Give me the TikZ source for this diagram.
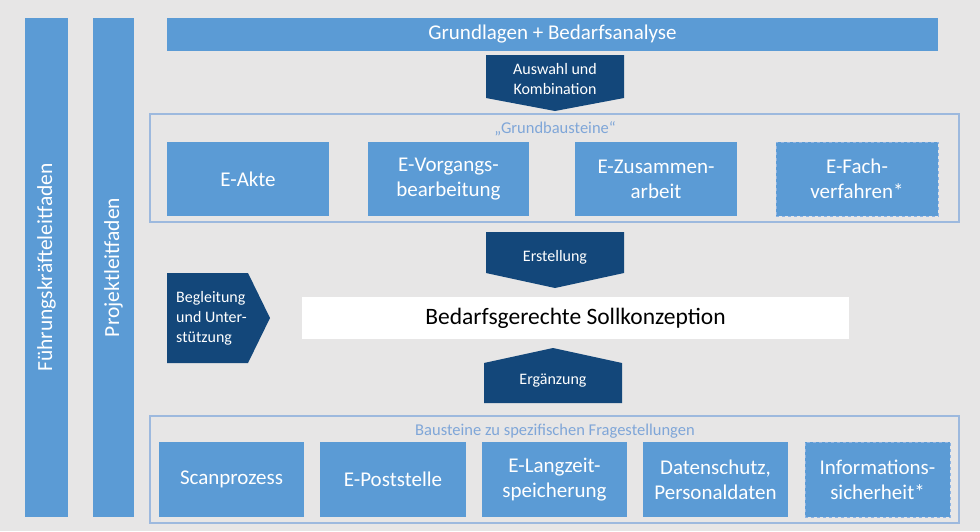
\documentclass[tikz,border=0pt]{standalone}
\usepackage{fontspec}
\setmainfont{Carlito}
\definecolor{bg}{HTML}{E7E6E6}
\definecolor{boxblue}{HTML}{5B9BD5}
\definecolor{darkblue}{HTML}{13477A}
\definecolor{grpline}{HTML}{9DB9DE}
\definecolor{grplabel}{HTML}{7FA6D8}
\definecolor{dashline}{HTML}{8FB4E3}
\tikzset{
  box/.style={fill=boxblue, text=white, align=center, inner sep=0pt, font=\fontsize{21}{25}\selectfont},
  bar/.style={fill=boxblue, text=white, inner sep=0pt, font=\fontsize{21}{25}\selectfont},
  vtext/.style={text=white, rotate=90, inner sep=0pt, font=\fontsize{21.5}{25}\selectfont},
  grp/.style={draw=grpline, line width=1.5pt},
  grplbl/.style={text=grplabel, font=\fontsize{16.5}{18}\selectfont, inner sep=0pt},
  darrow/.style={fill=darkblue},
  dlbl/.style={text=white, align=center, font=\fontsize{16}{20}\selectfont, inner sep=0pt},
  dashbox/.style={draw=dashline, dashed, line width=0.8pt},
}
\begin{document}
\begin{tikzpicture}[x=1pt,y=-1pt]
\fill[bg] (0,0) rectangle (980,531);
\useasboundingbox (0,0) rectangle (980,531);

% vertical bars
\node[bar, minimum width=43, minimum height=499] (fk) at (46.5,267.5) {};
\node[vtext] (fkt) at (fk.center) {Führungskräfteleitfaden};
\node[bar, minimum width=41, minimum height=499] (pl) at (113.5,267.5) {};
\node[vtext] (plt) at (pl.center) {Projektleitfaden};

% top bar
\node[bar, minimum width=771, minimum height=33] (top) at (552.5,34.5) {Grundlagen + Bedarfsanalyse};

% arrow Auswahl
\fill[darrow] (486,55) -- (624,55) -- (624,98) -- (555,111) -- (486,98) -- cycle;
\node[dlbl] (aus) at (555,79) {Auswahl und\\Kombination};

% group 1
\draw[grp] (150,114) rectangle (959,222);
\node[grplbl] (g1) at (555,129) {„Grundbausteine“};
\node[box, minimum width=162, minimum height=74] (akte) at (248,179) {E-Akte};
\node[box, minimum width=161, minimum height=74] (vorg) at (448.5,179) {E-Vorgangs-\\bearbeitung};
\node[box, minimum width=162, minimum height=74] (zus) at (656,179) {E-Zusammen-\\arbeit};
\node[box, dashbox, minimum width=162, minimum height=74] (fach) at (857,179) {E-Fach-\\verfahren*};

% arrow Erstellung
\fill[darrow] (486,232) -- (624,232) -- (624,273) -- (555,288) -- (486,273) -- cycle;
\node[dlbl] (erst) at (555,257) {Erstellung};

% Begleitung chevron
\fill[darrow] (167,273) -- (248,273) -- (270,318) -- (248,363) -- (167,363) -- cycle;
\node[dlbl, align=left, anchor=west] (begl) at (176,318) {Begleitung\\und Unter-\\stützung};

% white box
\node[fill=white, minimum width=547, minimum height=42, inner sep=0pt, font=\fontsize{23.5}{27}\selectfont] (soll) at (575.5,318) {Bedarfsgerechte Sollkonzeption};

% arrow Ergänzung
\fill[darrow] (484,403) -- (622,403) -- (622,363) -- (553,348) -- (484,363) -- cycle;
\node[dlbl] (erg) at (553,381) {Ergänzung};

% group 2
\draw[grp] (150,416) rectangle (959,523);
\node[grplbl] (g2) at (555,431) {Bausteine zu spezifischen Fragestellungen};
\node[box, minimum width=145, minimum height=75] (scan) at (231.5,479.5) {Scanprozess};
\node[box, minimum width=146, minimum height=75] (post) at (393,479.5) {E-Poststelle};
\node[box, minimum width=145, minimum height=75] (lang) at (554.5,479.5) {E-Langzeit-\\speicherung};
\node[box, minimum width=145, minimum height=75] (daten) at (715.5,479.5) {Datenschutz,\\Personaldaten};
\node[box, dashbox, minimum width=145, minimum height=75] (info) at (877.5,479.5) {Informations-\\sicherheit*};
\end{tikzpicture}
\end{document}
